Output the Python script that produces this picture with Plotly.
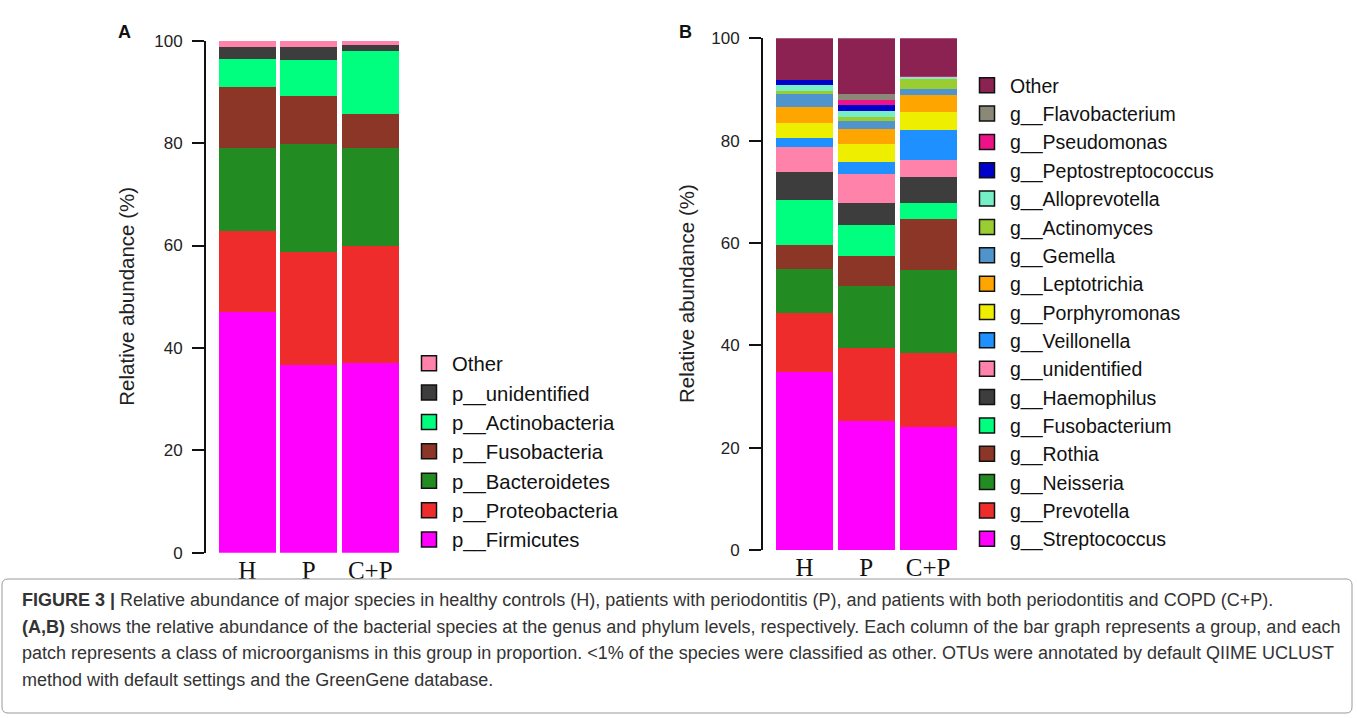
import plotly.graph_objects as go

W, H = 1357, 718

groups = ["H", "P", "C+P"]

# Panel A: phylum level, listed from the bottom of each stack upward
phyla = ["p__Firmicutes", "p__Proteobacteria", "p__Bacteroidetes",
         "p__Fusobacteria", "p__Actinobacteria", "p__unidentified", "Other"]
phylum_colors = ["#FF00FF", "#EE2C2C", "#228B22", "#8B3626",
                 "#00FF7F", "#3D3D3D", "#FF82AB"]
phylum_H = [47.1, 15.7, 16.3, 11.9, 5.5, 2.3, 1.2]
phylum_P = [36.65, 22.1, 21.15, 9.3, 7.0, 2.6, 1.2]
phylum_CP = [37.1, 22.8, 19.2, 6.5, 12.45, 1.15, 0.8]

# Panel B: genus level, listed from the bottom of each stack upward
genera = ["g__Streptococcus", "g__Prevotella", "g__Neisseria", "g__Rothia",
          "g__Fusobacterium", "g__Haemophilus", "g__unidentified",
          "g__Veillonella", "g__Porphyromonas", "g__Leptotrichia",
          "g__Gemella", "g__Actinomyces", "g__Alloprevotella",
          "g__Peptostreptococcus", "g__Pseudomonas", "g__Flavobacterium",
          "Other"]
genus_colors = ["#FF00FF", "#EE2C2C", "#228B22", "#8B3626", "#00FF7F",
                "#3D3D3D", "#FF82AB", "#1E90FF", "#EEEE00", "#FFA500",
                "#4F94CD", "#9ACD32", "#76EEC6", "#0000CD", "#EE1289",
                "#8B8878", "#8B2252"]
genus_H = [34.8, 11.6, 8.6, 4.6, 8.8, 5.4, 4.95, 1.75, 3.0, 3.0,
           2.7, 0.5, 1.2, 0.95, 0.0, 0.0, 8.15]
genus_P = [25.2, 14.35, 12.1, 5.8, 6.0, 4.3, 5.75, 2.3, 3.55, 2.95,
           1.6, 0.8, 1.15, 1.05, 1.0, 1.15, 10.95]
genus_CP = [24.1, 14.35, 16.25, 10.05, 3.0, 5.05, 3.4, 5.9, 3.5, 3.25,
            1.25, 1.85, 0.45, 0.15, 0.15, 0.0, 7.3]

caption_lines = [
    "<b>FIGURE 3 |</b> Relative abundance of major species in healthy controls (H), patients with periodontitis (P), and patients with both periodontitis and COPD (C+P).",
    "<b>(A,B)</b> shows the relative abundance of the bacterial species at the genus and phylum levels, respectively. Each column of the bar graph represents a group, and each",
    "patch represents a class of microorganisms in this group in proportion. &lt;1% of the species were classified as other. OTUs were annotated by default QIIME UCLUST",
    "method with default settings and the GreenGene database.",
]

SANS = "Liberation Sans, Arial, sans-serif"
SERIF = "Liberation Serif, Times New Roman, serif"

fig = go.Figure()


def add_panel(names, colors, columns, xref, yref, legend_id):
    for i, (name, color) in enumerate(zip(names, colors)):
        fig.add_trace(go.Bar(
            x=groups, y=[col[i] for col in columns], name=name,
            marker=dict(color=color, line=dict(width=0)),
            xaxis=xref, yaxis=yref, showlegend=False,
        ))
    # legend swatches, top entry first
    for name, color in zip(reversed(names), reversed(colors)):
        fig.add_trace(go.Scatter(
            x=[None], y=[None], mode="markers", name=name,
            marker=dict(symbol="square", size=15, color=color,
                        line=dict(color="#111111", width=1.5)),
            xaxis=xref, yaxis=yref, legend=legend_id, showlegend=True,
        ))


add_panel(phyla, phylum_colors, [phylum_H, phylum_P, phylum_CP], "x", "y", "legend")
add_panel(genera, genus_colors, [genus_H, genus_P, genus_CP], "x2", "y2", "legend2")


def px_x(v):
    return v / W


def px_y(v):
    return 1 - v / H


yaxis_style = dict(
    range=[0, 100], tickvals=[0, 20, 40, 60, 80, 100],
    showline=True, linecolor="#111111", linewidth=2,
    ticks="outside", ticklen=12, tickwidth=2, tickcolor="#111111",
    tickfont=dict(family=SANS, size=17, color="#222222"),
    ticklabelstandoff=6, automargin=False,
    showgrid=False, zeroline=False, fixedrange=True,
)
xaxis_style = dict(
    type="category", range=[-0.67, 2.5],
    showline=False, showgrid=False, zeroline=False, ticks="",
    tickfont=dict(family=SERIF, size=25, color="#111111"),
    ticklabelstandoff=0, automargin=False,
    fixedrange=True,
)
legend_style = dict(
    xanchor="left", yanchor="top", traceorder="normal",
    bgcolor="rgba(0,0,0,0)", borderwidth=0, itemclick=False,
    tracegroupgap=0, itemwidth=36,
)

fig.update_layout(
    width=W, height=H,
    margin=dict(l=0, r=0, t=0, b=0, autoexpand=False),
    paper_bgcolor="white", plot_bgcolor="white",
    barmode="stack", bargap=0.08,
    xaxis=dict(domain=[px_x(206), px_x(401)], anchor="y", **xaxis_style),
    yaxis=dict(domain=[px_y(552.7), px_y(40.7)], anchor="x", **yaxis_style),
    xaxis2=dict(domain=[px_x(763), px_x(959)], anchor="y2", **xaxis_style),
    yaxis2=dict(domain=[px_y(550), px_y(38.3)], anchor="x2", **yaxis_style),
    legend=dict(x=px_x(406), y=px_y(343.5),
                font=dict(family=SANS, size=20.3, color="#111111"), **legend_style),
    legend2=dict(x=px_x(964), y=px_y(66),
                 font=dict(family=SANS, size=19.5, color="#111111"), **legend_style),
)

annotations = [
    dict(text="<b>A</b>", x=px_x(124), y=px_y(32), xanchor="center", yanchor="middle",
         font=dict(family=SANS, size=18, color="#111111")),
    dict(text="<b>B</b>", x=px_x(685), y=px_y(32), xanchor="center", yanchor="middle",
         font=dict(family=SANS, size=18, color="#111111")),
    dict(text="Relative abundance (%)", x=px_x(127), y=px_y(296.7), textangle=-90,
         xanchor="center", yanchor="middle",
         font=dict(family=SANS, size=20.5, color="#222222")),
    dict(text="Relative abundance (%)", x=px_x(686), y=px_y(294), textangle=-90,
         xanchor="center", yanchor="middle",
         font=dict(family=SANS, size=20.5, color="#222222")),
]
for k, line in enumerate(caption_lines):
    annotations.append(dict(
        text=line, x=px_x(20), y=px_y(600 + 26.7 * k), xanchor="left", yanchor="middle",
        font=dict(family=SANS, size=18, color="#333333"),
    ))
for a in annotations:
    a.update(xref="paper", yref="paper", showarrow=False)
fig.update_layout(annotations=annotations)

# rounded frame around the caption
x0, x1, y0, y1, r = px_x(2), px_x(1352), px_y(713), px_y(579), 6
rx, ry = r / W, r / H
frame = (f"M {x0 + rx} {y1} L {x1 - rx} {y1} Q {x1} {y1} {x1} {y1 - ry} "
         f"L {x1} {y0 + ry} Q {x1} {y0} {x1 - rx} {y0} L {x0 + rx} {y0} "
         f"Q {x0} {y0} {x0} {y0 + ry} L {x0} {y1 - ry} Q {x0} {y1} {x0 + rx} {y1} Z")
fig.add_shape(type="path", xref="paper", yref="paper", path=frame,
              line=dict(color="#9a9a9a", width=1), fillcolor="rgba(0,0,0,0)")

fig.write_html("out.html")
